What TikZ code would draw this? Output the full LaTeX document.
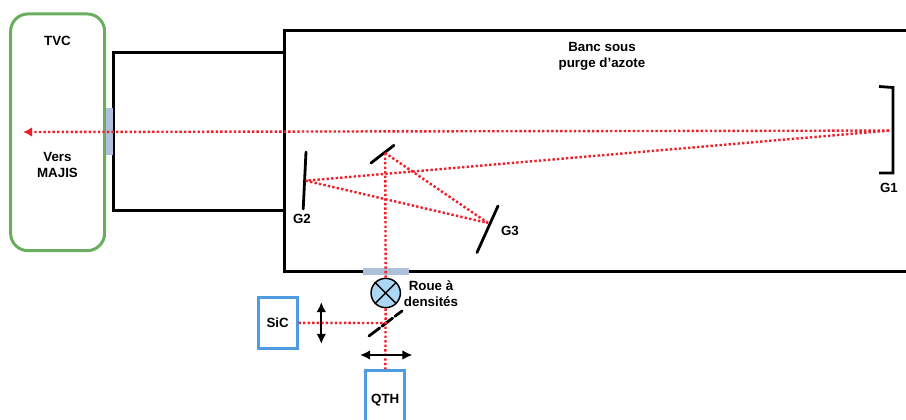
\documentclass[tikz,border=0pt]{standalone}
\usepackage{fontspec}
\setmainfont{Liberation Sans}
\usetikzlibrary{arrows.meta}

\begin{document}
\begin{tikzpicture}[
  x=.75pt,y=-.75pt,
  font=\fontsize{10}{11.6}\selectfont\bfseries,
  wall/.style={draw=black,line width=2.25pt,minimum width=#1},
  chamber/.style={draw=tvcgreen,line width=2.25pt,rounded corners=13pt,minimum width=70.5pt,minimum height=177.5pt},
  source/.style={draw=srcblue,line width=2.25pt,minimum width=29pt},
  window/.style={fill=winblue,inner sep=0pt},
  mirror/.style={line width=2.1pt,line cap=round},
  beam/.style={draw=beamred,line width=1.8pt,dash pattern=on 1.8pt off 1.6pt},
  moveaxis/.style={{Latex[length=2.7mm,width=2.6mm]}-{Latex[length=2.7mm,width=2.6mm]},line width=1.6pt},
  lbl/.style={align=center,inner sep=0pt}
]
\definecolor{tvcgreen}{HTML}{6AAD5E}
\definecolor{srcblue}{HTML}{4F9BE0}
\definecolor{winblue}{HTML}{AFC0DB}
\definecolor{beamred}{HTML}{F0202A}
\definecolor{wheelblue}{HTML}{ABD7F5}
\useasboundingbox (0,0) rectangle (906,420);
\clip (0,0) rectangle (906,420);

\node[wall=128pt,minimum height=118.5pt] (adapter) at (198.8,131.2) {};
\node[wall=480pt,minimum height=181pt,fill=white] (banc) at (604,151) {};
\node[chamber] (tvc) at (57.6,132.3) {};

\node[window,minimum width=5.6pt,minimum height=35pt] (wtvc) at (109.5,131.5) {};
\node[window,minimum width=34.5pt,minimum height=5.6pt] (wbanc) at (386,271.5) {};

\node[source,minimum height=38.5pt] (sic) at (277.7,322.8) {SiC};
\node[source,minimum height=44pt] (qth) at (385.2,400) {QTH};
\node[draw,line width=1.1pt,circle,fill=wheelblue,minimum size=22pt,inner sep=0pt] (roue) at (385.7,293) {};
\draw[line width=1.1pt] (roue.north west) -- (roue.south east);
\draw[line width=1.1pt] (roue.north east) -- (roue.south west);

\coordinate (hitg1) at (889,130.6);
\coordinate (hitg2) at (305.7,180.7);
\coordinate (hitg3) at (488,223);
\coordinate (hitm) at (385.2,153);
\coordinate (hitbs) at (385.2,323);
\coordinate (vers) at (23,132);

% mirrors
\draw[mirror,line cap=butt] (879,86.5) -- (893,87.5) -- (893,173) -- (879,173);
\draw[mirror] (306,152) -- (303.2,209);
\draw[mirror] (498,206) -- (477,252.5);
\draw[mirror] (371,163) -- (394,145.3);
\draw[mirror,dash pattern=on 10pt off 2.2pt] (369,336) -- (402,311);

% beams
\draw[beam,-{Latex[length=2.4mm,width=2.6mm]}] (hitg1) -- (vers);
\draw[beam] (hitg1) -- (hitg2);
\draw[beam] (hitg2) -- (hitg3);
\draw[beam] (hitg3) -- (hitm);
\draw[beam] (hitm) -- (roue);
\draw[beam] (roue) -- (qth);
\draw[beam] (sic) -- (hitbs);

\draw[moveaxis] (321.3,302) -- (321.3,344);
\draw[moveaxis] (360,355) -- (412.5,355);

\node[lbl] (ltvc) at (57.5,41) {TVC};
\node[lbl] (lvers) at (57.5,165) {Vers\\MAJIS};
\node[lbl] (lbanc) at (602,56.5) {Banc sous\\purge d’azote};
\node[lbl] (lg1) at (889,188) {G1};
\node[lbl] (lg2) at (302,218.5) {G2};
\node[lbl] (lg3) at (510,230.5) {G3};
\node[lbl] (lroue) at (431,293.5) {Roue à\\densités};
\end{tikzpicture}
\end{document}
